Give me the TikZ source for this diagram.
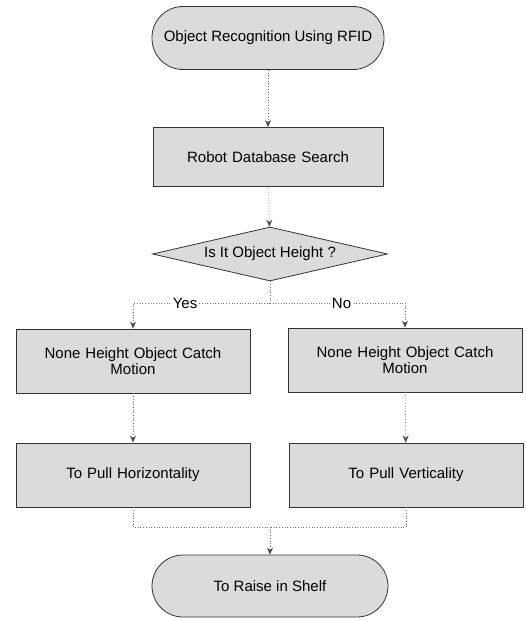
\documentclass[tikz,border=0pt]{standalone}
\usepackage{fontspec}
\setmainfont{Liberation Sans}
\usetikzlibrary{shapes.geometric,arrows.meta}
\begin{document}
\begin{tikzpicture}[x=1pt,y=-1pt,
  base/.style={draw=black!80, line width=0.8pt, fill=black!14, font=\fontsize{15}{16}\selectfont, align=center, inner sep=2pt},
  procbox/.style={base, rectangle, minimum width=234pt, minimum height=64pt, text width=224pt},
  termbox/.style={base, rectangle, rounded corners=31pt, minimum width=232pt, minimum height=63pt},
  decbox/.style={base, diamond, aspect=4.35, minimum width=235pt, minimum height=54pt, inner sep=0pt},
  conn/.style={draw=black!55, dotted, line width=0.7pt},
  arr/.style={conn, -{Stealth[length=7pt,width=6pt,black!70]}},
  lbl/.style={fill=white, inner sep=1pt, font=\fontsize{15}{16}\selectfont}]
\useasboundingbox (0,0) rectangle (526,621);
\node[termbox] (start) at (268,38) {Object Recognition Using RFID};
\node[procbox, minimum width=230pt, minimum height=59pt] (search) at (268,157) {Robot Database Search};
\node[decbox] (dec) at (270,254) {Is It Object Height ?};
\node[procbox] (lcatch) at (133,361) {None Height Object Catch\\Motion};
\node[procbox] (rcatch) at (405,360) {None Height Object Catch\\Motion};
\node[procbox] (lpull) at (133,475) {To Pull Horizontality};
\node[procbox] (rpull) at (406,475) {To Pull Verticality};
\node[termbox, minimum width=236pt, minimum height=62pt] (end) at (270,586) {To Raise in Shelf};
\coordinate (split) at (270,303);
\coordinate (merge) at (270,527);
\draw[arr] (start) -- (search);
\draw[arr] (search) -- (dec);
\draw[conn] (dec.south) -- (split);
\draw[arr] (split) -- node[lbl, pos=0.62] {Yes} (lcatch.north |- split) -- (lcatch.north);
\draw[arr] (split) -- node[lbl, pos=0.53] {No} (rcatch.north |- split) -- (rcatch.north);
\draw[arr] (lcatch) -- (lpull);
\draw[arr] (rcatch) -- (rpull);
\draw[conn] (lpull.south) -- (lpull.south |- merge) -- (merge);
\draw[conn] (rpull.south) -- (rpull.south |- merge) -- (merge);
\draw[arr] (merge) -- (end);
\end{tikzpicture}
\end{document}
